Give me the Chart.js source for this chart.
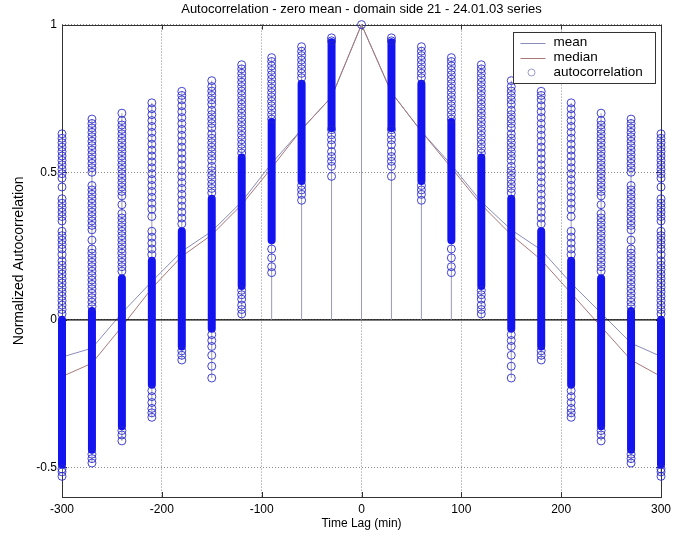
<!DOCTYPE html>
<html>
<head>
<meta charset="utf-8">
<script src="https://cdn.jsdelivr.net/npm/chart.js@4"></script>
<style>
  html, body { margin: 0; padding: 0; background: #fff; }
  canvas { display: block; }
</style>
</head>
<body>
<canvas id="acfChart" width="690" height="540"></canvas>
<script>
// time lags (min), one column of autocorrelation values per lag
const lags = [-300, -270, -240, -210, -180, -150, -120, -90, -60, -30, 0,
              30, 60, 90, 120, 150, 180, 210, 240, 270, 300];

const meanValues = [-0.126, -0.096, 0.023, 0.13, 0.232, 0.30, 0.40, 0.53, 0.645, 0.755, 1,
                    0.77, 0.638, 0.525, 0.40, 0.305, 0.237, 0.124, 0.023, -0.079, -0.124];
const medianValues = [-0.192, -0.147, -0.023, 0.107, 0.215, 0.288, 0.39, 0.515, 0.645, 0.755, 1,
                      0.77, 0.638, 0.515, 0.39, 0.288, 0.203, 0.09, -0.023, -0.136, -0.192];

// ranges where the circles are packed so tight they read as a solid bar
const denseLow = [-0.49, -0.44, -0.36, -0.22, -0.09, -0.03, 0.115, 0.27, 0.47, 0.65, null,
                  0.65, 0.47, 0.27, 0.115, -0.03, -0.09, -0.22, -0.36, -0.44, -0.49];
const denseHigh = [0.00, 0.03, 0.14, 0.20, 0.30, 0.41, 0.55, 0.67, 0.80, 0.94, null,
                   0.94, 0.80, 0.67, 0.55, 0.41, 0.30, 0.20, 0.14, 0.03, 0.00];

// the separate circles outside those ranges (autocorrelation is symmetric in lag)
const col0 = [1];
const col30 = [0.955, 0.945, 0.644, 0.627, 0.61, 0.593, 0.57, 0.553, 0.537, 0.52, 0.486];
const col60 = [0.925, 0.91, 0.895, 0.88, 0.865, 0.85, 0.835, 0.82, 0.455, 0.44, 0.425, 0.405];
const col90 = [0.888, 0.875, 0.86, 0.845, 0.83, 0.815, 0.80, 0.785, 0.77, 0.755, 0.74, 0.725,
               0.71, 0.695, 0.68, 0.24, 0.21, 0.18, 0.16];
const col120 = [0.864, 0.85, 0.835, 0.82, 0.805, 0.79, 0.775, 0.76, 0.745, 0.73, 0.715, 0.70,
                0.685, 0.67, 0.655, 0.64, 0.625, 0.61, 0.595, 0.58, 0.565, 0.10, 0.085, 0.07,
                0.05, 0.035, 0.02];
const col150 = [0.81, 0.79, 0.775, 0.76, 0.745, 0.73, 0.71, 0.695, 0.68, 0.665, 0.65, 0.63,
                0.615, 0.60, 0.585, 0.57, 0.555, 0.54, 0.52, 0.505, 0.49, 0.475, 0.46, 0.445,
                0.43, -0.05, -0.07, -0.09, -0.12, -0.157, -0.197];
const col180 = [0.774, 0.76, 0.745, 0.725, 0.705, 0.685, 0.665, 0.645, 0.625, 0.605, 0.585,
                0.565, 0.545, 0.525, 0.505, 0.485, 0.465, 0.445, 0.425, 0.405, 0.385, 0.365,
                0.345, 0.325, -0.105, -0.12, -0.136];
const col210 = [0.735, 0.715, 0.695, 0.675, 0.655, 0.635, 0.615, 0.595, 0.575, 0.555, 0.535,
                0.515, 0.495, 0.475, 0.455, 0.435, 0.415, 0.395, 0.375, 0.35, 0.30, 0.28, 0.26,
                0.24, 0.22, -0.24, -0.26, -0.28, -0.30, -0.315, -0.33];
const col240 = [0.70, 0.675, 0.66, 0.645, 0.63, 0.615, 0.60, 0.585, 0.57, 0.555, 0.54, 0.525,
                0.51, 0.495, 0.48, 0.465, 0.45, 0.435, 0.42, 0.39, 0.36, 0.345, 0.33, 0.315,
                0.30, 0.285, 0.27, 0.255, 0.24, 0.225, 0.21, 0.195, 0.18, 0.165,
                -0.375, -0.39, -0.41];
const col270 = [0.68, 0.665, 0.65, 0.635, 0.62, 0.605, 0.59, 0.575, 0.56, 0.545, 0.53, 0.515,
                0.50, 0.455, 0.44, 0.425, 0.41, 0.395, 0.38, 0.365, 0.35, 0.335, 0.32, 0.305,
                0.27, 0.24, 0.225, 0.21, 0.195, 0.18, 0.165, 0.15, 0.135, 0.12, 0.105, 0.09,
                0.075, 0.06, 0.045, -0.455, -0.47, -0.485];
const col300 = [0.63, 0.615, 0.60, 0.585, 0.57, 0.555, 0.54, 0.525, 0.51, 0.495, 0.48, 0.45,
                0.41, 0.395, 0.38, 0.365, 0.35, 0.335, 0.30, 0.285, 0.27, 0.255, 0.24, 0.22,
                0.20, 0.185, 0.17, 0.155, 0.14, 0.125, 0.11, 0.095, 0.08, 0.065, 0.05, 0.035,
                0.02, -0.505, -0.515, -0.53];

const columns = [col300, col270, col240, col210, col180, col150, col120, col90, col60, col30, col0,
                 col30, col60, col90, col120, col150, col180, col210, col240, col270, col300];

const xTicks = [-300, -200, -100, 0, 100, 200, 300];
const yTicks = [-0.5, 0, 0.5, 1];
const yTickLabels = ['-0.5', '0', '0.5', '1'];

const FONT = "'Liberation Sans', Arial, Helvetica, sans-serif";
const MEAN_COLOR = '#8a8cbc';
const MEDIAN_COLOR = '#a87878';
const CIRCLE_COLOR = 'rgba(35, 35, 205, 0.85)';

const circlePoints = lags.flatMap((lag, i) => columns[i].map(v => ({ x: lag, y: v })));
const densePoints = lags.flatMap((lag, i) => denseLow[i] === null ? [] :
    [{ x: lag, y: denseLow[i] }, { x: lag, y: denseHigh[i] }, { x: lag, y: null }]);
const stemPoints = lags.flatMap((lag, i) => {
    const vals = columns[i].concat(denseLow[i] === null ? [] : [denseLow[i], denseHigh[i]]);
    return [{ x: lag, y: Math.min(0, ...vals) }, { x: lag, y: Math.max(0, ...vals) }, { x: lag, y: null }];
});

// matlab style box with inward tick marks
const framePlugin = {
    id: 'frame',
    beforeDatasetsDraw(chart) {
        const { ctx, chartArea: a, scales } = chart;
        ctx.save();
        ctx.strokeStyle = '#333';
        ctx.lineWidth = 1;
        ctx.strokeRect(Math.round(a.left) + 0.5, Math.round(a.top) + 0.5,
            Math.round(a.right - a.left), Math.round(a.bottom - a.top));
        ctx.beginPath();
        xTicks.forEach(v => {
            const px = Math.round(scales.x.getPixelForValue(v)) + 0.5;
            ctx.moveTo(px, a.bottom); ctx.lineTo(px, a.bottom - 5);
            ctx.moveTo(px, a.top); ctx.lineTo(px, a.top + 5);
        });
        yTicks.forEach(v => {
            const py = Math.round(scales.y.getPixelForValue(v)) + 0.5;
            ctx.moveTo(a.left, py); ctx.lineTo(a.left + 5, py);
            ctx.moveTo(a.right, py); ctx.lineTo(a.right - 5, py);
        });
        ctx.stroke();
        ctx.restore();
    }
};

const legendPlugin = {
    id: 'boxLegend',
    afterDraw(chart) {
        const { ctx, chartArea: a } = chart;
        const w = 142, h = 51;
        const x0 = Math.round(a.right - 6 - w) + 0.5, y0 = Math.round(a.top + 7) + 0.5;
        ctx.save();
        ctx.fillStyle = '#fff';
        ctx.fillRect(x0, y0, w, h);
        ctx.strokeStyle = '#333';
        ctx.lineWidth = 1;
        ctx.strokeRect(x0, y0, w, h);
        const rows = [
            { text: 'mean', kind: 'line', color: MEAN_COLOR },
            { text: 'median', kind: 'line', color: MEDIAN_COLOR },
            { text: 'autocorrelation', kind: 'circle', color: CIRCLE_COLOR }
        ];
        ctx.font = '13.5px ' + FONT;
        ctx.textBaseline = 'middle';
        rows.forEach((r, i) => {
            const y = y0 + 10 + i * 15;
            if (r.kind === 'line') {
                ctx.strokeStyle = r.color;
                ctx.beginPath();
                ctx.moveTo(x0 + 7, Math.round(y) + 0.5);
                ctx.lineTo(x0 + 32, Math.round(y) + 0.5);
                ctx.stroke();
            } else {
                ctx.strokeStyle = '#9a9ac8';
                ctx.beginPath();
                ctx.arc(x0 + 18, y, 3.5, 0, Math.PI * 2);
                ctx.stroke();
            }
            ctx.fillStyle = '#000';
            ctx.fillText(r.text, x0 + 40, y);
        });
        ctx.restore();
    }
};

new Chart(document.getElementById('acfChart'), {
    type: 'scatter',
    data: {
        datasets: [
            {
                label: 'autocorrelation',
                data: circlePoints,
                pointStyle: 'circle',
                pointRadius: 4,
                pointBorderWidth: 1,
                pointBorderColor: CIRCLE_COLOR,
                pointBackgroundColor: 'rgba(0,0,0,0)',
                clip: false,
                order: 1
            },
            {
                label: 'dense',
                data: densePoints,
                showLine: true,
                spanGaps: false,
                borderColor: '#1414f0',
                borderWidth: 8,
                borderCapStyle: 'round',
                pointRadius: 0,
                clip: false,
                order: 2
            },
            {
                label: 'stems',
                data: stemPoints,
                showLine: true,
                spanGaps: false,
                borderColor: '#9a9ab4',
                borderWidth: 1,
                pointRadius: 0,
                order: 3
            },
            {
                label: 'baseline',
                data: [{ x: lags[0], y: 0 }, { x: lags[lags.length - 1], y: 0 }],
                showLine: true,
                borderColor: '#000',
                borderWidth: 1.2,
                pointRadius: 0,
                order: 4
            },
            {
                label: 'median',
                data: lags.map((lag, i) => ({ x: lag, y: medianValues[i] })),
                showLine: true,
                borderColor: MEDIAN_COLOR,
                borderWidth: 1,
                pointRadius: 0,
                order: 5
            },
            {
                label: 'mean',
                data: lags.map((lag, i) => ({ x: lag, y: meanValues[i] })),
                showLine: true,
                borderColor: MEAN_COLOR,
                borderWidth: 1,
                pointRadius: 0,
                order: 6
            }
        ]
    },
    options: {
        responsive: false,
        animation: false,
        events: [],
        layout: { padding: { left: 0, right: 29, top: 0, bottom: 0 } },
        scales: {
            x: {
                type: 'linear',
                min: -300,
                max: 300,
                afterBuildTicks: s => { s.ticks = xTicks.map(v => ({ value: v })); },
                afterFit: s => { s.height = 43; },
                ticks: {
                    color: '#000',
                    font: { family: FONT, size: 12 },
                    padding: 5,
                    maxRotation: 0,
                    autoSkip: false,
                    callback: v => String(v)
                },
                grid: { color: '#8c8c8c', lineWidth: 1, drawTicks: false },
                border: { display: false, dash: [1, 2] },
                title: {
                    display: true,
                    text: 'Time Lag (min)',
                    color: '#000',
                    font: { family: FONT, size: 12 },
                    padding: { top: 0, bottom: 9 }
                }
            },
            y: {
                type: 'linear',
                min: -0.6,
                max: 1,
                afterBuildTicks: s => { s.ticks = yTicks.map(v => ({ value: v })); },
                afterFit: s => { s.width = 62; },
                ticks: {
                    color: '#000',
                    font: { family: FONT, size: 12 },
                    padding: 5,
                    callback: (v, i) => yTickLabels[i]
                },
                grid: { color: '#8c8c8c', lineWidth: 1, drawTicks: false },
                border: { display: false, dash: [1, 2] },
                title: {
                    display: true,
                    text: 'Normalized Autocorrelation',
                    color: '#000',
                    font: { family: FONT, size: 14 },
                    padding: { top: 11, bottom: 0 }
                }
            }
        },
        plugins: {
            legend: { display: false },
            tooltip: { enabled: false },
            title: {
                display: true,
                fullSize: false,
                text: 'Autocorrelation - zero mean - domain side 21 - 24.01.03 series',
                color: '#000',
                font: { family: FONT, size: 13, weight: 'normal' },
                padding: { top: 2, bottom: 7 }
            }
        }
    },
    plugins: [framePlugin, legendPlugin]
});
</script>
</body>
</html>
